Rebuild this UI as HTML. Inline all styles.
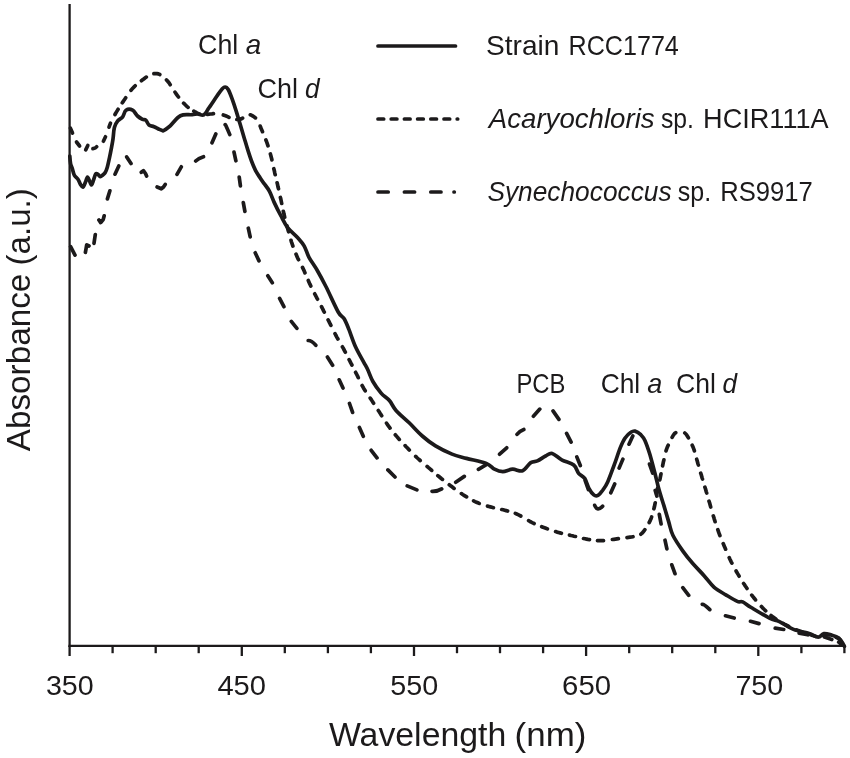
<!DOCTYPE html>
<html><head><meta charset="utf-8"><title>Absorbance spectra</title>
<style>
html,body{margin:0;padding:0;background:#fff;}
svg{display:block;}
text{font-family:"Liberation Sans",sans-serif;fill:#1c1a1b;}
.i{font-style:italic;}
</style></head>
<body>
<svg width="850" height="758" viewBox="0 0 850 758">
<rect width="850" height="758" fill="#fff"/>
<g stroke="#1c1a1b" stroke-width="2.3" fill="none">
<line x1="69.6" y1="4" x2="69.6" y2="646.9"/>
<line x1="68.5" y1="645.8" x2="845.5" y2="645.8"/>
<line x1="69.6" y1="645.8" x2="69.6" y2="656.0"/><line x1="112.6" y1="645.8" x2="112.6" y2="653.2"/><line x1="155.7" y1="645.8" x2="155.7" y2="653.2"/><line x1="198.7" y1="645.8" x2="198.7" y2="653.2"/><line x1="241.8" y1="645.8" x2="241.8" y2="656.0"/><line x1="284.8" y1="645.8" x2="284.8" y2="653.2"/><line x1="327.9" y1="645.8" x2="327.9" y2="653.2"/><line x1="370.9" y1="645.8" x2="370.9" y2="653.2"/><line x1="414.0" y1="645.8" x2="414.0" y2="656.0"/><line x1="457.0" y1="645.8" x2="457.0" y2="653.2"/><line x1="500.0" y1="645.8" x2="500.0" y2="653.2"/><line x1="543.1" y1="645.8" x2="543.1" y2="653.2"/><line x1="586.1" y1="645.8" x2="586.1" y2="656.0"/><line x1="629.2" y1="645.8" x2="629.2" y2="653.2"/><line x1="672.2" y1="645.8" x2="672.2" y2="653.2"/><line x1="715.3" y1="645.8" x2="715.3" y2="653.2"/><line x1="758.3" y1="645.8" x2="758.3" y2="656.0"/><line x1="801.4" y1="645.8" x2="801.4" y2="653.2"/><line x1="844.4" y1="645.8" x2="844.4" y2="653.2"/>
</g>
<g fill="none" stroke="#1c1a1b" stroke-width="3.7" stroke-linecap="round" stroke-linejoin="round">
<path d="M70.4 128.2 L72.5 133.0M76.5 142.0 L79.6 146.0M85.7 149.9 L87.8 145.5M92.9 148.7 Q95.6 148.3 96.7 146.7M103.4 141.2 L105.5 136.8M109.0 127.2 L110.5 123.2"/>
<path d="M115.0 114.5L115.7 113.2L116.5 111.9L117.3 110.6L118.1 109.3M122.3 102.8L123.1 101.6L124.0 100.3L124.9 99.0L125.7 97.8M131.0 90.3L132.0 89.1L133.0 88.0L134.1 86.9L135.2 85.8M141.4 80.7L142.6 79.8L143.8 78.9L145.0 78.0L146.3 77.1M153.9 73.7L155.4 73.5L156.9 73.6L158.4 73.9L159.8 74.5M166.5 79.9L167.5 81.0L168.5 82.2L169.4 83.4L170.2 84.7M175.0 92.1L175.8 93.4L176.7 94.6L177.6 95.8L178.5 97.0M183.6 103.2L184.7 104.2L185.8 105.3L186.9 106.3L188.1 107.3M193.8 111.2L195.2 112.0L196.5 112.7L197.9 113.4L199.3 113.9M207.5 114.4L209.0 114.2L210.5 114.0L212.0 113.9L213.5 113.7M223.3 115.0L224.8 115.5L226.2 116.0L227.6 116.6L229.0 117.3M236.8 119.5L238.3 119.5L239.8 119.3L241.3 118.9L242.6 118.2M250.3 114.8L251.7 115.4L253.0 116.2L254.3 117.0L255.5 117.9M260.2 126.1L260.7 127.5L261.3 128.9L261.9 130.3L262.5 131.7M265.9 140.0L266.5 141.5L267.0 142.9L267.5 144.3L268.0 145.8M270.4 154.0L270.8 155.4L271.2 156.9L271.6 158.4L271.9 159.9M273.8 168.7L274.2 170.2L274.5 171.7L274.8 173.2L275.2 174.7M277.1 182.8L277.5 184.3L277.8 185.8L278.1 187.3L278.5 188.8M280.4 197.5L280.8 199.0L281.1 200.5L281.4 202.0L281.7 203.5M283.3 211.3L283.7 212.8L284.0 214.3L284.4 215.8L284.7 217.3M287.0 226.0L287.4 227.4L287.8 228.9L288.2 230.4L288.6 231.8M291.0 240.3L291.4 241.8L291.9 243.2L292.4 244.6L292.9 246.1M296.0 254.1L296.6 255.5L297.2 256.9L297.8 258.3L298.5 259.7M302.5 267.4L303.1 268.7L303.8 270.1L304.4 271.5L305.0 272.9M308.3 280.5L308.9 281.9L309.5 283.3L310.2 284.7L310.8 286.1M314.7 293.8L315.4 295.1L316.1 296.5L316.8 297.9L317.5 299.2M321.5 306.7L322.2 308.0L322.9 309.4L323.6 310.8L324.3 312.1M328.1 319.9L328.8 321.2L329.5 322.6L330.2 324.0L330.9 325.3M335.0 333.6L335.7 335.0L336.4 336.3L337.1 337.6L337.9 339.0M342.4 346.8L343.2 348.2L343.9 349.5L344.6 350.8L345.3 352.2M349.1 359.6L349.8 360.9L350.5 362.3L351.2 363.7L351.9 365.0M355.6 372.3L356.3 373.6L357.0 375.0L357.7 376.4L358.3 377.7M362.1 385.5L362.9 386.9L363.6 388.2L364.4 389.5L365.2 390.8M370.2 398.1L371.1 399.3L371.9 400.6L372.7 401.9L373.6 403.2M378.3 410.5L379.2 411.8L380.0 413.1L380.8 414.4L381.7 415.7M386.5 423.1L387.3 424.4L388.2 425.6L389.1 426.8L390.0 428.1M395.3 434.8L396.3 435.9L397.3 437.1L398.3 438.3L399.3 439.4M405.1 445.6L406.1 446.7L407.2 447.8L408.3 448.9L409.3 450.0M415.7 456.4L416.8 457.5L417.9 458.5L419.0 459.5L420.2 460.5M427.1 466.4L428.2 467.4L429.4 468.4L430.6 469.4L431.7 470.4M437.8 475.6L438.9 476.5L440.1 477.5L441.3 478.5L442.5 479.4M449.3 484.8L450.5 485.7L451.7 486.6L452.9 487.5L454.1 488.4M461.4 493.6L462.7 494.5L464.0 495.3L465.3 496.1L466.6 496.9M473.6 500.9L475.0 501.6L476.4 502.2L477.8 502.8L479.2 503.4M487.5 506.1L488.9 506.5L490.4 506.9L491.9 507.3L493.4 507.7M501.7 509.5L503.2 509.8L504.7 510.2L506.2 510.6L507.6 511.0M515.3 513.4L516.7 514.0L518.1 514.6L519.5 515.3L520.8 516.0M528.6 520.7L530.0 521.5L531.3 522.2L532.7 522.9L534.1 523.5M541.7 526.7L543.1 527.3L544.5 527.8L545.9 528.3L547.4 528.9M555.6 531.6L557.0 532.1L558.5 532.5L560.0 532.9L561.4 533.3M569.5 535.1L571.0 535.5L572.5 535.8L574.0 536.2L575.5 536.5M583.5 538.5L585.0 538.8L586.5 539.1L588.0 539.4L589.5 539.6M597.5 540.6L599.0 540.7L600.5 540.7L602.0 540.7L603.5 540.6M612.4 539.5L613.9 539.3L615.4 539.1L616.9 538.9L618.4 538.7M627.0 537.6L628.5 537.4L630.0 537.2L631.5 537.0L633.0 536.7M640.9 534.2L642.1 533.2L643.1 532.1L644.0 530.9L644.9 529.7M649.2 522.5L649.9 521.2L650.5 519.8L651.1 518.4L651.6 517.0M653.9 508.8L654.3 507.3L654.6 505.8L654.9 504.3L655.2 502.8M656.6 493.9L656.8 492.4L657.1 490.9L657.4 489.4L657.7 487.9M659.7 479.9L660.1 478.4L660.4 476.9L660.7 475.4L661.0 473.9M662.6 465.9L662.9 464.4L663.2 462.9L663.5 461.4L663.9 459.9M666.0 450.9L666.5 449.4L667.0 448.0L667.6 446.6L668.2 445.2M672.1 437.4L672.8 436.1L673.6 434.8L674.5 433.6L675.7 432.7M684.8 433.0L685.9 434.0L686.8 435.2L687.6 436.5L688.4 437.8M692.2 445.2L692.8 446.6L693.4 448.0L693.9 449.4L694.4 450.9M696.7 459.2L697.1 460.6L697.5 462.1L697.9 463.6L698.4 465.0M700.7 473.2L701.2 474.6L701.6 476.1L702.0 477.6L702.5 479.0M704.9 487.2L705.4 488.6L705.8 490.1L706.2 491.6L706.7 493.0M709.0 501.2L709.5 502.6L709.9 504.1L710.3 505.6L710.7 507.0M713.3 515.9L713.8 517.3L714.2 518.8L714.7 520.3L715.1 521.7M717.8 529.7L718.3 531.2L718.8 532.6L719.3 534.0L719.9 535.5M723.2 543.6L723.8 545.0L724.4 546.4L725.0 547.8L725.6 549.2M729.2 557.6L729.8 559.0L730.5 560.4L731.2 561.8L731.9 563.1M736.1 571.0L736.8 572.3L737.6 573.6L738.4 574.9L739.1 576.2M743.6 583.5L744.5 584.7L745.3 586.0L746.2 587.3L747.0 588.5M751.7 595.1L752.7 596.3L753.6 597.5L754.6 598.7L755.5 599.9M761.4 606.5L762.4 607.6L763.5 608.7L764.6 609.8L765.7 610.8M771.0 615.5L772.2 616.4L773.4 617.3L774.6 618.2L775.9 619.0M783.3 623.5L784.7 624.3L786.0 625.0L787.4 625.7L788.7 626.4M796.7 629.9L798.1 630.4L799.5 631.0L800.9 631.5L802.4 632.1M810.1 634.6L811.5 635.1L813.0 635.5L814.5 635.9L815.9 636.4M823.1 635.3L824.5 634.6L826.0 634.5L827.5 634.7L829.0 635.0M835.8 637.1L837.2 637.8L838.5 638.5L839.7 639.4L840.7 640.6"/>
<path d="M70.6 246.7 L75.0 255.1M85.4 252.4L86.0 249.0L86.7 244.8L89.0 246.0M94.0 243.3 L95.3 234.6M98.9 220.0L100.7 222.6L103.2 219.5L104.2 215.8M107.4 198.9 L109.9 190.8M115.0 174.2 L118.8 166.0M126.7 156.9 L131.0 163.5M141.3 172.3L143.4 170.7L145.5 173.5L146.6 176.0M157.1 187.0L161.3 188.8L163.5 187.0L165.2 184.4M177.0 174.3 L181.3 166.8M195.7 161.0 Q198.2 158.3 203.5 156.7M212.0 142.8 L215.8 133.9M225.2 124.7 Q225.5 124.3 229.8 134.6M234.0 152.1 L235.9 160.8M239.2 177.1 L240.4 185.8M243.3 202.6 L244.9 211.4M248.3 228.2 L250.2 236.9M255.2 252.8 L259.0 260.9M267.8 275.8 L272.3 282.8M279.6 298.4 L283.9 306.7M291.3 321.4 L296.9 328.3M308.2 340.5 Q311.6 340.5 315.8 345.3M327.4 357.0 L332.6 365.3M339.2 379.8 L343.0 388.0M349.5 403.5 L352.6 412.4M359.4 427.4 L363.3 436.3M371.2 450.3 L377.0 457.9M387.9 469.9 L395.0 477.0M407.2 485.9 L416.9 489.9M432.0 491.3 Q437.7 491.5 441.7 488.9M455.7 482.2 L464.3 476.4M478.4 469.3 L485.9 464.9M499.6 454.2 L506.7 447.8M517.0 434.3 Q519.6 431.1 523.8 429.5M533.4 416.2 L539.8 409.1M553.0 410.9 L558.9 419.4M566.6 433.4 L571.1 442.1M576.8 456.9 L580.3 465.5M585.2 480.6 L588.4 489.5M594.7 505.3 Q597.3 512.0 602.6 506.2M610.8 492.8 L614.7 483.9M619.1 468.1 L622.9 459.1M629.0 444.2 L632.8 436.0M649.5 464.1 L652.7 473.0M655.2 490.5 L656.9 496.1M659.3 514.4 L661.1 524.0M665.0 540.2 L666.9 548.9M671.8 564.8 L675.0 573.7M682.8 587.7 L688.7 595.4M702.3 604.4 Q704.1 604.0 709.8 609.6M725.5 615.8 L734.2 618.0M750.5 621.3 L759.0 623.6M775.2 628.2 L783.7 629.5M799.2 633.2 L807.7 634.8M824.5 637.0 L831.8 639.5M838.7 642.1 L841.0 644.0"/>
<path d="M69.8 156.0C69.9 157.3 70.2 161.8 70.6 163.9C71.0 166.0 71.7 166.6 72.3 168.5C72.9 170.4 73.4 173.6 74.4 175.4C75.4 177.2 77.1 178.0 78.1 179.5C79.1 181.0 79.7 183.2 80.5 184.5C81.3 185.8 82.2 187.4 83.0 187.0C83.8 186.6 84.8 183.7 85.5 182.0C86.2 180.3 86.8 177.2 87.5 177.1C88.2 177.0 88.9 179.9 89.6 181.2C90.3 182.5 91.0 185.2 91.7 184.9C92.4 184.6 93.0 181.3 93.7 179.5C94.4 177.7 95.0 174.6 95.8 173.8C96.5 173.0 97.5 174.1 98.2 174.6C99.0 175.1 99.5 176.6 100.3 176.7C101.1 176.8 102.0 175.7 102.8 175.0C103.6 174.3 104.5 173.8 105.2 172.5C106.0 171.2 106.6 169.6 107.3 167.2C108.0 164.8 108.7 161.3 109.4 158.1C110.1 154.9 110.8 151.4 111.4 148.2C112.0 145.0 112.5 142.4 113.0 139.0C113.5 135.6 113.6 130.5 114.4 127.5C115.2 124.5 116.3 122.7 117.7 120.9C119.1 119.1 121.3 118.6 122.7 116.8C124.1 115.0 124.3 111.3 126.0 110.2C127.7 109.1 130.7 109.2 132.6 110.2C134.5 111.2 135.8 114.5 137.5 116.0C139.2 117.5 141.1 118.6 142.5 119.3C143.9 120.0 144.7 119.1 145.8 120.1C146.9 121.0 147.6 123.9 149.0 125.0C150.4 126.1 152.3 126.0 154.0 126.7C155.7 127.4 157.4 128.5 158.9 129.2C160.4 129.9 162.0 130.7 163.0 130.8C164.0 130.9 163.8 130.6 165.0 129.8C166.2 129.0 168.0 128.0 170.2 125.9C172.3 123.9 175.8 119.3 177.9 117.5C180.1 115.7 180.7 115.4 183.1 114.9C185.5 114.4 189.8 114.9 192.2 114.7C194.6 114.5 195.5 113.9 197.4 113.9C199.3 113.9 201.9 115.9 203.8 114.9C205.7 113.9 206.8 110.9 209.0 107.8C211.2 104.7 214.7 99.3 216.8 96.2C219.0 93.1 220.5 90.8 221.9 89.3C223.3 87.8 223.9 87.0 225.0 87.0C226.1 87.0 227.0 87.4 228.2 89.5C229.4 91.6 231.0 95.8 232.3 99.4C233.6 103.0 234.9 107.0 236.2 111.1C237.5 115.2 238.8 119.7 240.1 124.0C241.4 128.3 242.6 132.6 243.9 136.9C245.2 141.2 246.5 145.8 247.8 149.9C249.1 154.0 250.4 158.1 251.7 161.5C253.0 164.9 254.2 167.8 255.6 170.6C257.0 173.3 258.8 175.8 260.2 178.0C261.6 180.2 262.6 181.5 264.2 183.7C265.8 185.9 267.8 188.1 269.5 191.3C271.2 194.5 272.5 198.8 274.4 202.9C276.3 207.0 278.8 211.9 281.0 216.0C283.2 220.1 284.9 224.0 287.6 227.6C290.4 231.2 294.8 234.5 297.5 237.5C300.2 240.5 302.2 242.5 304.1 245.8C306.0 249.1 306.8 253.2 309.0 257.3C311.2 261.4 314.5 265.6 317.3 270.5C320.1 275.4 322.4 279.6 325.9 286.5C329.4 293.4 335.2 306.6 338.2 312.0C341.2 317.4 342.2 315.7 344.0 318.6C345.8 321.5 347.0 324.7 348.9 329.4C350.8 334.1 353.0 341.2 355.5 346.7C358.0 352.2 361.7 358.4 363.8 362.3C365.9 366.2 366.4 366.8 367.9 370.0C369.4 373.2 370.7 377.6 372.9 381.5C375.1 385.4 378.4 389.9 381.1 393.1C383.9 396.3 386.9 397.6 389.4 400.5C391.9 403.4 392.7 406.7 396.0 410.4C399.3 414.1 404.8 418.5 409.2 422.8C413.6 427.1 417.9 432.1 422.3 436.0C426.7 439.9 430.6 442.9 435.5 445.9C440.4 448.9 446.8 452.0 452.0 454.1C457.2 456.2 460.8 456.8 466.5 458.4C472.2 459.9 481.6 461.6 486.3 463.4C491.0 465.2 491.8 467.8 494.5 469.2C497.2 470.6 499.8 471.6 502.8 471.6C505.8 471.6 509.4 469.3 512.7 469.2C516.0 469.1 519.6 471.9 522.6 470.8C525.6 469.7 528.3 464.2 530.8 462.6C533.3 461.0 534.9 462.0 537.4 460.9C539.9 459.8 543.1 457.2 545.6 456.0C548.1 454.8 549.5 452.8 552.2 453.5C555.0 454.2 558.5 458.2 562.1 460.1C565.7 462.0 571.0 462.8 573.7 465.0C576.5 467.2 576.8 471.1 578.6 473.3C580.4 475.5 583.0 475.9 584.7 478.4C586.4 480.9 587.4 485.6 588.9 488.3C590.4 491.1 592.3 493.7 593.8 494.9C595.3 496.1 596.4 496.2 597.9 495.4C599.4 494.6 601.2 492.3 602.9 490.0C604.5 487.7 605.9 486.0 607.8 481.7C609.7 477.4 612.3 470.0 614.4 464.4C616.5 458.8 618.4 452.3 620.2 447.9C622.0 443.5 623.3 440.6 625.1 438.0C626.9 435.4 629.2 433.4 630.9 432.3C632.5 431.2 633.4 430.7 635.0 431.1C636.6 431.5 639.1 433.1 640.8 434.7C642.4 436.3 643.4 437.2 644.9 440.5C646.4 443.8 648.2 449.1 649.9 454.5C651.5 459.9 653.3 466.9 654.8 472.7C656.3 478.5 657.4 483.7 658.9 489.2C660.4 494.7 662.2 500.1 663.9 505.6C665.5 511.1 667.3 517.1 668.8 522.1C670.3 527.1 670.6 530.7 673.0 535.5C675.4 540.3 679.6 546.4 682.9 551.1C686.2 555.8 689.2 559.4 692.8 563.5C696.4 567.6 700.7 571.9 704.3 575.9C707.9 579.9 710.6 584.2 714.2 587.4C717.8 590.5 721.9 592.5 725.8 594.8C729.6 597.1 734.5 600.2 737.3 601.4C740.1 602.6 740.4 600.9 742.7 601.9C745.0 602.9 746.7 604.8 751.2 607.5C755.7 610.2 764.8 615.8 769.5 618.1C774.2 620.5 775.4 619.7 779.4 621.6C783.4 623.5 788.5 627.4 793.5 629.4C798.5 631.4 805.0 632.3 809.1 633.6C813.2 634.9 815.7 637.2 818.2 637.2C820.7 637.2 821.7 634.0 823.9 633.6C826.1 633.2 829.1 634.4 831.6 635.1C834.1 635.8 836.8 636.5 838.7 637.9C840.6 639.3 842.0 642.1 842.9 643.5C843.8 644.9 844.1 645.9 844.4 646.4"/>
<line x1="378" y1="46" x2="455.5" y2="46"/>
<path d="M378 119h5.7m7.5 0h5.7m7.5 0h5.7m7.5 0h5.7m7.5 0h5.7m7.5 0h5.7m7.5 0h0.5"/>
<path d="M378 192h10.2m16.2 0h10.2m16.2 0h10.2m13 0h0.3"/>
</g>
<text id="t350" x="45.90" y="695.0" font-size="28" textLength="47.78" lengthAdjust="spacingAndGlyphs">350</text>
<text id="t450" x="217.40" y="695.0" font-size="28" textLength="48.59" lengthAdjust="spacingAndGlyphs">450</text>
<text id="t550" x="390.36" y="695.0" font-size="28" textLength="47.96" lengthAdjust="spacingAndGlyphs">550</text>
<text id="t650" x="562.14" y="695.0" font-size="28" textLength="48.94" lengthAdjust="spacingAndGlyphs">650</text>
<text id="t750" x="735.42" y="695.0" font-size="28" textLength="47.85" lengthAdjust="spacingAndGlyphs">750</text>
<text id="ca1a" x="198.08" y="54.4" font-size="28" textLength="40.17" lengthAdjust="spacingAndGlyphs">Chl</text>
<text id="ca1b" class="i" x="245.79" y="54.4" font-size="28" textLength="15.49" lengthAdjust="spacingAndGlyphs">a</text>
<text id="cd1a" x="257.52" y="97.6" font-size="28" textLength="40.44" lengthAdjust="spacingAndGlyphs">Chl</text>
<text id="cd1b" class="i" x="305.06" y="97.6" font-size="28" textLength="14.59" lengthAdjust="spacingAndGlyphs">d</text>
<text id="pcb" x="516.51" y="392.6" font-size="28" textLength="48.93" lengthAdjust="spacingAndGlyphs">PCB</text>
<text id="ca2a" x="600.63" y="392.6" font-size="28" textLength="39.55" lengthAdjust="spacingAndGlyphs">Chl</text>
<text id="ca2b" class="i" x="647.30" y="392.6" font-size="28" textLength="15.06" lengthAdjust="spacingAndGlyphs">a</text>
<text id="cd2a" x="675.99" y="392.6" font-size="28" textLength="39.89" lengthAdjust="spacingAndGlyphs">Chl</text>
<text id="cd2b" class="i" x="722.53" y="392.6" font-size="28" textLength="14.52" lengthAdjust="spacingAndGlyphs">d</text>
<text id="l1a" x="486.01" y="54.5" font-size="28" textLength="73.38" lengthAdjust="spacingAndGlyphs">Strain</text>
<text id="l1b" x="568.51" y="54.5" font-size="28" textLength="110.33" lengthAdjust="spacingAndGlyphs">RCC1774</text>
<text id="l2a" class="i" x="488.76" y="128.2" font-size="28" textLength="165.92" lengthAdjust="spacingAndGlyphs">Acaryochloris</text>
<text id="l2b" x="660.99" y="128.2" font-size="28" textLength="32.98" lengthAdjust="spacingAndGlyphs">sp.</text>
<text id="l2c" x="703.12" y="128.2" font-size="28" textLength="125.49" lengthAdjust="spacingAndGlyphs">HCIR111A</text>
<text id="l3a" class="i" x="487.44" y="201.0" font-size="28" textLength="184.12" lengthAdjust="spacingAndGlyphs">Synechococcus</text>
<text id="l3b" x="677.78" y="201.0" font-size="28" textLength="33.33" lengthAdjust="spacingAndGlyphs">sp.</text>
<text id="l3c" x="720.28" y="201.0" font-size="28" textLength="92.49" lengthAdjust="spacingAndGlyphs">RS9917</text>
<text id="xl1" x="328.88" y="746.3" font-size="34" textLength="177.46" lengthAdjust="spacingAndGlyphs">Wavelength</text>
<text id="xl2" x="514.59" y="746.3" font-size="34" textLength="71.80" lengthAdjust="spacingAndGlyphs">(nm)</text>
<text id="yl1" transform="translate(29.9 451.27) rotate(-90)" font-size="34" textLength="177.55" lengthAdjust="spacingAndGlyphs">Absorbance</text>
<text id="yl2" transform="translate(29.9 265.45) rotate(-90)" font-size="34" textLength="77.22" lengthAdjust="spacingAndGlyphs">(a.u.)</text>

</svg>
</body></html>
